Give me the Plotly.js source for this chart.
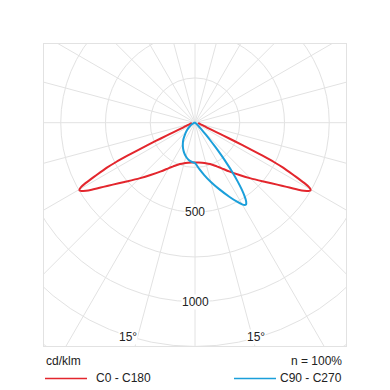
<!DOCTYPE html>
<html>
<head>
<meta charset="utf-8">
<script src="https://cdn.plot.ly/plotly-3.0.1.min.js"></script>
<style>
  html, body { margin: 0; padding: 0; background: #ffffff; }
  #chart { width: 390px; height: 390px; }
</style>
</head>
<body>
<div id="chart"></div>
<script>
// ---- Data (cd/klm vs. gamma angle from nadir, degrees) ----
const gammaC0 = [0,5,10,15,20,25,30,35,40,45,50,53,55,56,57,58,59,59.5,60,60.5,61,61.6,62,63,63.5,64,64.5,65,65.5,66,67,68,70,72,75,80,85,90];
const intensityC0 = [222,223,227,234,246,265,293,332,380,440,515,575,625,655,688,718,740,748,745,733,705,657,625,550,495,420,335,245,175,130,92,72,52,40,30,23,20,18];
const gammaC180 = [0,5,10,15,20,25,30,35,40,45,50,53,55,56,57,58,59,59.5,60,60.5,61,61.6,62,63,63.5,64,64.5,65,65.5,66,67,68,70,72,75,80,85,90];
const intensityC180 = [222,223,227,234,246,265,293,332,380,440,515,575,625,655,688,718,740,748,745,733,705,657,625,550,495,420,335,245,175,130,92,72,52,40,30,23,20,18];

const gammaC90 = [0,5,10,15,20,25,28,30,31,32,33,34,35,36,37,38,39,40,41,42,44,47,50,60,75,90];
const intensityC90 = [225,258,297,343,395,458,500,527,537,538,525,495,455,405,350,290,230,175,128,92,50,25,12,3,1,0];
const gammaC270 = [0,5,10,15,20,25,30,35,40,45,50,55,60,70,80,90];
const intensityC270 = [225,219,210,196,178,158,136,113,88,68,50,35,24,10,3,0];

const ringValues = [250,500,750,1000,1250,1500];
const ringLabels = ['500','1000'];
const ringLabelValues = [500,1000];
const spokeStep = 15;
const angleLabel = '15°';
const unitLabel = 'cd/klm';
const efficiencyLabel = 'n = 100%';
const seriesNames = ['C0 - C180','C90 - C270'];
const seriesColors = ['#e3262d','#1b9fda'];

// ---- polar (gamma, I) -> plane; right half = first plane, left half = opposite plane ----
const rad = d => d * Math.PI / 180;
function loop(gRight, iRight, gLeft, iLeft) {
  const x = [], y = [];
  for (let k = gRight.length - 1; k >= 0; k--) {
    x.push(iRight[k] * Math.sin(rad(gRight[k])));
    y.push(-iRight[k] * Math.cos(rad(gRight[k])));
  }
  for (let k = 1; k < gLeft.length; k++) {
    x.push(-iLeft[k] * Math.sin(rad(gLeft[k])));
    y.push(-iLeft[k] * Math.cos(rad(gLeft[k])));
  }
  return {x, y};
}

const red = loop(gammaC0, intensityC0, gammaC180, intensityC180);
const blue = loop(gammaC90, intensityC90, gammaC270, intensityC270);

const traces = [
  {type:'scatter', mode:'lines', x:red.x, y:red.y, name:seriesNames[0],
   line:{color:seriesColors[0], width:2, shape:'spline', smoothing:0.6}, hoverinfo:'skip'},
  {type:'scatter', mode:'lines', x:blue.x, y:blue.y, name:seriesNames[1],
   line:{color:seriesColors[1], width:2, shape:'spline', smoothing:0.6}, hoverinfo:'skip'}
];

const gridColor = '#e2e2e2';
const shapes = [];
ringValues.forEach(r => shapes.push({type:'circle', xref:'x', yref:'y', x0:-r, x1:r, y0:-r, y1:r,
  line:{color:gridColor, width:1}, layer:'below'}));
for (let a = 0; a < 360; a += spokeStep) {
  const R = 3000;
  shapes.push({type:'line', xref:'x', yref:'y', x0:0, y0:0,
    x1:R*Math.cos(rad(a)), y1:R*Math.sin(rad(a)), line:{color:gridColor, width:1}, layer:'below'});
}
// legend sample lines (paper coords)
const W = 302, L = 44, T = 44;
const px = v => (v - L) / W;
const py = v => (T + W - v) / W;
shapes.push({type:'line', xref:'paper', yref:'paper', x0:px(45), x1:px(87), y0:py(378.5), y1:py(378.5),
  line:{color:seriesColors[0], width:1.6}});
shapes.push({type:'line', xref:'paper', yref:'paper', x0:px(234), x1:px(276), y0:py(378.5), y1:py(378.5),
  line:{color:seriesColors[1], width:1.6}});

const font = {family:'"Liberation Sans", Arial, sans-serif', size:12, color:'#222222'};
const annotations = [];
ringLabelValues.forEach((v, i) => annotations.push({xref:'x', yref:'y', x:0, y:-v, text:ringLabels[i],
  showarrow:false, font:font, bgcolor:'#ffffff', borderpad:0, xanchor:'center', yanchor:'middle'}));
annotations.push({xref:'paper', yref:'paper', x:px(127.5), y:py(336.5), text:angleLabel, showarrow:false,
  font:font, bgcolor:'#ffffff', borderpad:0, xanchor:'center', yanchor:'middle'});
annotations.push({xref:'paper', yref:'paper', x:px(255.5), y:py(336.5), text:angleLabel, showarrow:false,
  font:font, bgcolor:'#ffffff', borderpad:0, xanchor:'center', yanchor:'middle'});
annotations.push({xref:'paper', yref:'paper', x:px(44), y:py(361), text:unitLabel, showarrow:false,
  font:font, xanchor:'left', yanchor:'middle'});
annotations.push({xref:'paper', yref:'paper', x:px(344), y:py(361), text:efficiencyLabel, showarrow:false,
  font:font, xanchor:'right', yanchor:'middle'});
annotations.push({xref:'paper', yref:'paper', x:px(94), y:py(378), text:seriesNames[0], showarrow:false,
  font:font, xanchor:'left', yanchor:'middle'});
annotations.push({xref:'paper', yref:'paper', x:px(344), y:py(378), text:seriesNames[1], showarrow:false,
  font:font, xanchor:'right', yanchor:'middle'});

const scale = 0.179; // px per cd/klm
const cy = 122.7;
const layout = {
  width:390, height:390,
  margin:{l:44, r:44, t:44, b:44, pad:0},
  paper_bgcolor:'#ffffff', plot_bgcolor:'#ffffff',
  showlegend:false,
  xaxis:{range:[-(W/2)/scale, (W/2)/scale], showgrid:false, zeroline:false, showticklabels:false, ticks:'',
    showline:true, mirror:true, linecolor:'#e2e2e2', linewidth:1, fixedrange:true},
  yaxis:{range:[-(T + W - cy)/scale, (cy - T)/scale], showgrid:false, zeroline:false, showticklabels:false, ticks:'',
    showline:true, mirror:true, linecolor:'#e2e2e2', linewidth:1, fixedrange:true},
  shapes:shapes,
  annotations:annotations
};

Plotly.newPlot('chart', traces, layout, {staticPlot:true, displayModeBar:false});
</script>
</body>
</html>
